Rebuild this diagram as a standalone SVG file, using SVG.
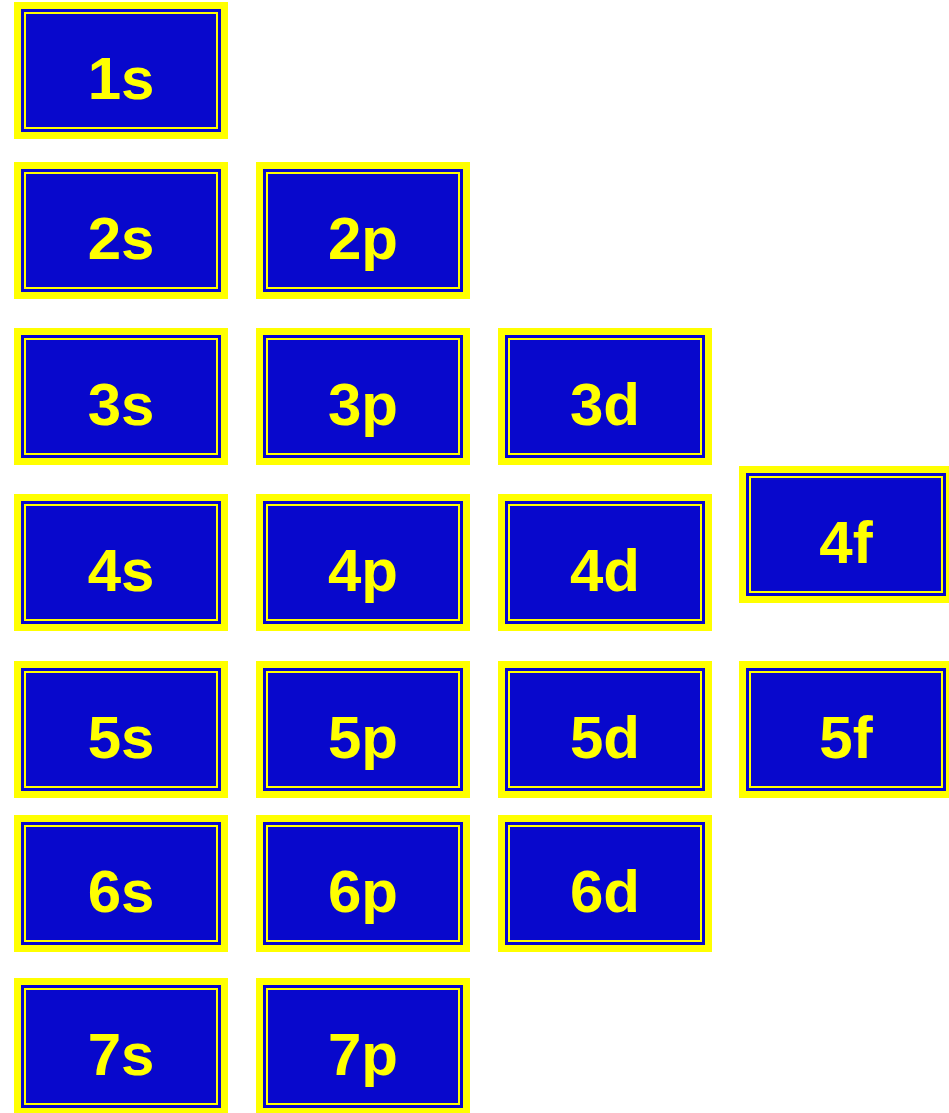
<svg xmlns="http://www.w3.org/2000/svg" xmlns:xlink="http://www.w3.org/1999/xlink" width="949" height="1113" viewBox="0 0 949 1113">
<style>
.outer{fill:#FFFF00}
.fill{fill:#0808CC}
.line{fill:none;stroke:#FFFF00;stroke-width:2}
.lbl{font-family:"Liberation Sans",Arial,sans-serif;font-weight:bold;font-size:60px;fill:#FFFF00;text-anchor:middle}
</style>
<defs>
<g id="box">
<rect class="outer" x="0" y="0" width="214" height="137"/>
<rect class="fill" x="7" y="7" width="200" height="123"/>
<rect class="line" x="11" y="11" width="192" height="115"/>
</g>
</defs>
<rect width="949" height="1113" fill="#FFFFFF"/>
<g id="connectors"/>
<g id="n1s" transform="translate(14,2)"><use xlink:href="#box"/><text class="lbl" x="107" y="97">1s</text></g>
<g id="n2s" transform="translate(14,162)"><use xlink:href="#box"/><text class="lbl" x="107" y="97">2s</text></g>
<g id="n2p" transform="translate(256,162)"><use xlink:href="#box"/><text class="lbl" x="107" y="97">2p</text></g>
<g id="n3s" transform="translate(14,328)"><use xlink:href="#box"/><text class="lbl" x="107" y="97">3s</text></g>
<g id="n3p" transform="translate(256,328)"><use xlink:href="#box"/><text class="lbl" x="107" y="97">3p</text></g>
<g id="n3d" transform="translate(498,328)"><use xlink:href="#box"/><text class="lbl" x="107" y="97">3d</text></g>
<g id="n4s" transform="translate(14,494)"><use xlink:href="#box"/><text class="lbl" x="107" y="97">4s</text></g>
<g id="n4p" transform="translate(256,494)"><use xlink:href="#box"/><text class="lbl" x="107" y="97">4p</text></g>
<g id="n4d" transform="translate(498,494)"><use xlink:href="#box"/><text class="lbl" x="107" y="97">4d</text></g>
<g id="n4f" transform="translate(739,466)"><use xlink:href="#box"/><text class="lbl" x="107" y="97">4f</text></g>
<g id="n5s" transform="translate(14,661)"><use xlink:href="#box"/><text class="lbl" x="107" y="97">5s</text></g>
<g id="n5p" transform="translate(256,661)"><use xlink:href="#box"/><text class="lbl" x="107" y="97">5p</text></g>
<g id="n5d" transform="translate(498,661)"><use xlink:href="#box"/><text class="lbl" x="107" y="97">5d</text></g>
<g id="n5f" transform="translate(739,661)"><use xlink:href="#box"/><text class="lbl" x="107" y="97">5f</text></g>
<g id="n6s" transform="translate(14,815)"><use xlink:href="#box"/><text class="lbl" x="107" y="97">6s</text></g>
<g id="n6p" transform="translate(256,815)"><use xlink:href="#box"/><text class="lbl" x="107" y="97">6p</text></g>
<g id="n6d" transform="translate(498,815)"><use xlink:href="#box"/><text class="lbl" x="107" y="97">6d</text></g>
<g id="n7s" transform="translate(14,978)"><use xlink:href="#box"/><text class="lbl" x="107" y="97">7s</text></g>
<g id="n7p" transform="translate(256,978)"><use xlink:href="#box"/><text class="lbl" x="107" y="97">7p</text></g>
</svg>
